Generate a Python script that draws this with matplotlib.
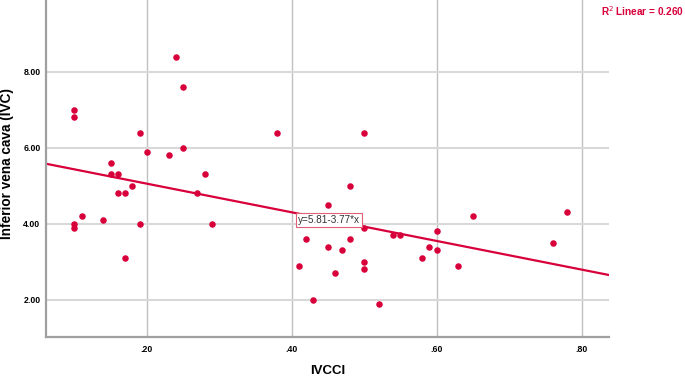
import numpy as np
import matplotlib.pyplot as plt

plt.rcParams["font.family"] = ["Liberation Sans", "DejaVu Sans"]

# IVCCI vs IVC
ivcci = [0.24, 0.25, 0.10, 0.10, 0.19, 0.38, 0.50, 0.25, 0.20, 0.23,
         0.15, 0.15, 0.16, 0.28, 0.48, 0.18, 0.16, 0.17, 0.27, 0.45,
         0.10, 0.10, 0.11, 0.14, 0.19, 0.29, 0.17, 0.50, 0.42, 0.45,
         0.48, 0.47, 0.50, 0.50, 0.41, 0.46, 0.43, 0.52, 0.54, 0.55,
         0.60, 0.59, 0.58, 0.60, 0.63, 0.65, 0.76, 0.78]
ivc = [8.4, 7.6, 7.0, 6.8, 6.4, 6.4, 6.4, 6.0, 5.9, 5.8,
       5.6, 5.3, 5.3, 5.3, 5.0, 5.0, 4.8, 4.8, 4.8, 4.5,
       4.0, 3.9, 4.2, 4.1, 4.0, 4.0, 3.1, 3.9, 3.6, 3.4,
       3.6, 3.3, 3.0, 2.8, 2.9, 2.7, 2.0, 1.9, 3.7, 3.7,
       3.8, 3.4, 3.1, 3.3, 2.9, 4.2, 3.5, 4.3]

intercept = 5.81
slope = -3.77
r2 = 0.260

xticks = [0.2, 0.4, 0.6, 0.8]
xticklabels = [".20", ".40", ".60", ".80"]
yticks = [2, 4, 6, 8]
yticklabels = ["2.00", "4.00", "6.00", "8.00"]

red = "#d8003a"

fig = plt.figure(figsize=(6.85, 3.78), dpi=100)
ax = fig.add_axes([0.0672, 0.1085, 0.822, 0.8915])

xmin, xmax = 0.061, 0.838
ax.set_xlim(xmin, xmax)
ax.set_ylim(1.02, 9.89)

for t in xticks:
    ax.axvline(t, color="#c0c0c0", lw=1.0, zorder=0)
for t in yticks:
    ax.axhline(t, color="#d8d8d8", lw=1.5, zorder=0)

ax.scatter(ivcci, ivc, s=22, color=red, zorder=3, linewidths=0)

xs = np.array([xmin, xmax])
ax.plot(xs, intercept + slope * xs, color=red, lw=1.6, zorder=2)

ax.text(0.4085, 4.095, "y=5.81-3.77*x", fontsize=7.2, ha="left", va="center",
        color="#333333", zorder=4,
        bbox=dict(boxstyle="square,pad=0.2", fc="white", ec="#e0607a", lw=0.8))

ax.set_xticks(xticks)
ax.set_xticklabels(xticklabels, fontsize=6.3, fontweight="bold")
ax.set_yticks(yticks)
ax.set_yticklabels(yticklabels, fontsize=6.3, fontweight="bold")
ax.tick_params(axis="x", length=0, pad=6)
ax.tick_params(axis="y", length=0, pad=4)

for s in ["top", "right"]:
    ax.spines[s].set_visible(False)
for s in ["left", "bottom"]:
    ax.spines[s].set_color("#a0a0a0")
    ax.spines[s].set_linewidth(1.6)

fig.text(328 / 685, 1 - 371.5 / 378, "IVCCI", fontsize=9.5, fontweight="bold",
         ha="center", va="center")
fig.text(7.5 / 685, 1 - 164 / 378, "Inferior vena cava (IVC)", fontsize=9.8,
         fontweight="bold", rotation=90, ha="center", va="center")

fig.text(0.998, 0.99, "R$^2$ Linear = 0.260", fontsize=7.2, fontweight="bold",
         color=red, ha="right", va="top")

fig.savefig("out.png", dpi=100)
